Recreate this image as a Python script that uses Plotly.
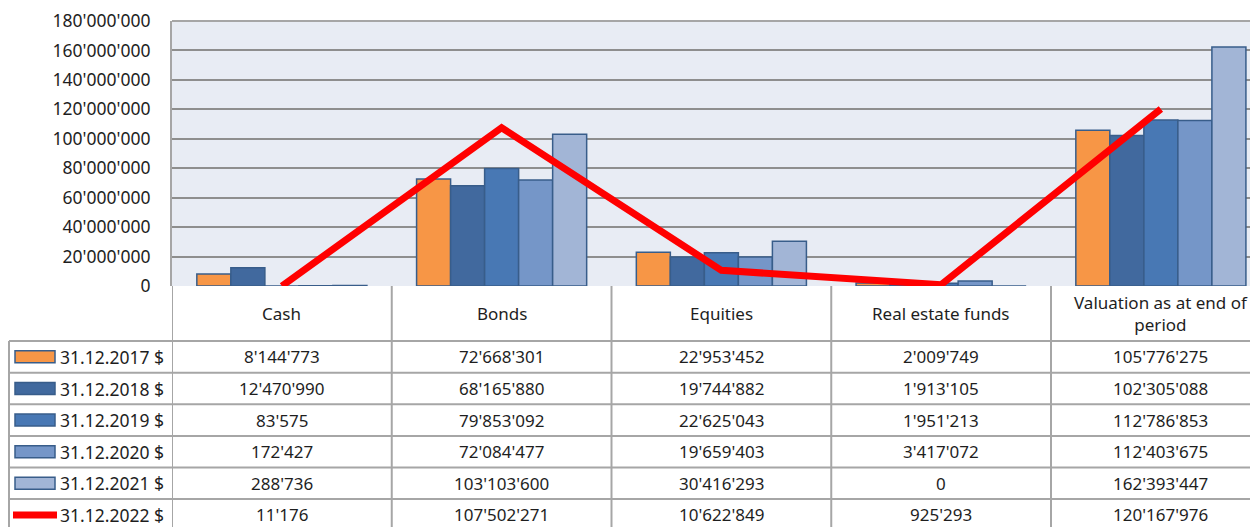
import plotly.graph_objects as go

categories = ["Cash", "Bonds", "Equities", "Real estate funds", "Valuation as at end of period"]
header_labels = ["Cash", "Bonds", "Equities", "Real estate funds", "Valuation as at end of<br>period"]
series_names = ["31.12.2017 $", "31.12.2018 $", "31.12.2019 $", "31.12.2020 $", "31.12.2021 $", "31.12.2022 $"]
y_ticks = [0, 20000000, 40000000, 60000000, 80000000, 100000000, 120000000, 140000000, 160000000, 180000000]

v2017 = [8144773, 72668301, 22953452, 2009749, 105776275]
v2018 = [12470990, 68165880, 19744882, 1913105, 102305088]
v2019 = [83575, 79853092, 22625043, 1951213, 112786853]
v2020 = [172427, 72084477, 19659403, 3417072, 112403675]
v2021 = [288736, 103103600, 30416293, 0, 162393447]
v2022 = [11176, 107502271, 10622849, 925293, 120167976]

bar_series = [v2017, v2018, v2019, v2020, v2021]
bar_colors = ["#F79646", "#41699E", "#4878B4", "#7596C8", "#A2B5D6"]
line_color = "#FF0000"

# the page body has an 8px margin, so the figure sits at (8, 8)
OFF = 8
W, H = 1258 - OFF, 527 - OFF
L, T, B = 172, 21, 286  # plot area in screen px


def xp(px):
    return (px - L) / (W + OFF - L)


def yp(py):
    return (B - py) / (B - T)


def fmt(v):
    return f"{v:,}".replace(",", "'")


fig = go.Figure()
for name, vals, col in zip(series_names[:5], bar_series, bar_colors):
    fig.add_trace(go.Bar(x=categories, y=vals, name=name,
                         marker=dict(color=col, line=dict(color="#385D8A", width=1.5))))
fig.add_trace(go.Scatter(x=categories, y=v2022, name=series_names[5], mode="lines",
                         line=dict(color=line_color, width=7)))

font = "Noto Sans"
grid_col = "#A6A6A6"
txt = dict(family=font, size=17, color="#1E1E1E")

# data table below the plot
row_lines = [341, 372.7, 404.3, 435.9, 467.5, 499.1, 530.7]
shapes = []
for k in range(len(categories) + 1):
    shapes.append(dict(type="line", xref="x", yref="paper", x0=k - 0.5, x1=k - 0.5,
                       y0=yp(B), y1=yp(540), line=dict(color=grid_col, width=2)))
shapes.append(dict(type="line", xref="paper", yref="paper", x0=xp(9), x1=xp(9),
                   y0=yp(row_lines[0]), y1=yp(540), line=dict(color=grid_col, width=2)))
for r in row_lines:
    shapes.append(dict(type="line", xref="paper", yref="paper", x0=xp(9), x1=1.02,
                       y0=yp(r), y1=yp(r), line=dict(color=grid_col, width=2)))
# top border of the plot area
shapes.append(dict(type="line", xref="paper", yref="paper", x0=0, x1=1, y0=1, y1=1,
                   line=dict(color=grid_col, width=2)))

annotations = []
for i, lab in enumerate(header_labels):
    annotations.append(dict(x=i, y=yp(313.5), xref="x", yref="paper", text=lab, showarrow=False,
                            xanchor="center", yanchor="middle", font=txt, align="center"))

all_series = bar_series + [v2022]
for j, (name, vals) in enumerate(zip(series_names, all_series)):
    yc = (row_lines[j] + row_lines[j + 1]) / 2
    annotations.append(dict(x=xp(166), y=yp(yc), xref="paper", yref="paper", text=name,
                            showarrow=False, xanchor="right", yanchor="middle",
                            font=dict(family=font, size=17.5, color="#1E1E1E")))
    for i, v in enumerate(vals):
        annotations.append(dict(x=i, y=yp(yc), xref="x", yref="paper", text=fmt(v),
                                showarrow=False, xanchor="center", yanchor="middle", font=txt))
    # legend key
    if j < 5:
        shapes.append(dict(type="rect", xref="paper", yref="paper", x0=xp(15), x1=xp(55),
                           y0=yp(yc - 6), y1=yp(yc + 6), fillcolor=bar_colors[j],
                           line=dict(color="#385D8A", width=1.5)))
    else:
        shapes.append(dict(type="line", xref="paper", yref="paper", x0=xp(13), x1=xp(57),
                           y0=yp(yc), y1=yp(yc), line=dict(color=line_color, width=7)))

fig.update_layout(
    width=W, height=H,
    margin=dict(l=L - OFF, r=0, t=T - OFF, b=H + OFF - B, autoexpand=False),
    paper_bgcolor="white",
    plot_bgcolor="#E8ECF4",
    barmode="group", bargap=0.226, bargroupgap=0,
    showlegend=False,
    separators=".'",
    font=dict(family=font, color="#1E1E1E"),
    shapes=shapes,
    annotations=annotations,
    xaxis=dict(range=[-0.5, -0.5 + (W + OFF - L) / 219.75], showticklabels=False,
               showgrid=False, zeroline=False, showline=False),
    yaxis=dict(range=[0, 180000000], tickmode="array", tickvals=y_ticks,
               ticktext=[fmt(v) for v in y_ticks], ticklabeloverflow="allow",
               showgrid=True, gridcolor="#8E8E8E", gridwidth=2,
               showline=True, linecolor=grid_col, linewidth=2,
               zeroline=False, ticks="", ticklabelstandoff=16,
               tickfont=dict(family=font, size=17.5, color="#1E1E1E")),
)

fig.write_html("out.html")
